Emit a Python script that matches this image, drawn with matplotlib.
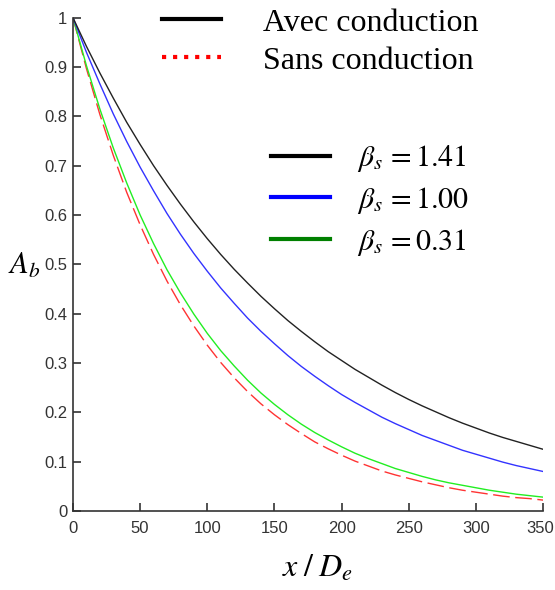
import matplotlib.pyplot as plt
from matplotlib.lines import Line2D
from matplotlib.transforms import ScaledTranslation
import numpy as np

plt.rcParams['mathtext.fontset'] = 'stix'

# x / De
x = np.arange(0, 351, 10)

# A_b, beta_s = 1.41 / 1.00 / 0.31 and without conduction
ab_141 = [1.0, 0.942, 0.888, 0.837, 0.788, 0.743, 0.700, 0.660, 0.622, 0.586,
          0.552, 0.520, 0.490, 0.462, 0.435, 0.410, 0.386, 0.364, 0.343, 0.323,
          0.305, 0.287, 0.271, 0.255, 0.240, 0.226, 0.213, 0.201, 0.189, 0.178,
          0.168, 0.158, 0.149, 0.141, 0.133, 0.125]
ab_100 = [1.0, 0.930, 0.866, 0.805, 0.749, 0.697, 0.649, 0.603, 0.561, 0.522,
          0.486, 0.452, 0.421, 0.391, 0.364, 0.339, 0.315, 0.293, 0.273, 0.254,
          0.236, 0.220, 0.205, 0.190, 0.177, 0.165, 0.153, 0.143, 0.133, 0.123,
          0.115, 0.107, 0.099, 0.092, 0.086, 0.080]
ab_031 = [1.0, 0.903, 0.815, 0.736, 0.665, 0.600, 0.542, 0.489, 0.442, 0.399,
          0.360, 0.325, 0.294, 0.265, 0.239, 0.216, 0.195, 0.176, 0.159, 0.144,
          0.130, 0.117, 0.106, 0.096, 0.086, 0.078, 0.070, 0.063, 0.057, 0.052,
          0.047, 0.042, 0.038, 0.034, 0.031, 0.028]
ab_sans = [1.0, 0.897, 0.804, 0.721, 0.646, 0.580, 0.520, 0.466, 0.418, 0.375,
           0.336, 0.301, 0.270, 0.242, 0.217, 0.195, 0.175, 0.157, 0.140, 0.126,
           0.113, 0.101, 0.091, 0.081, 0.073, 0.066, 0.059, 0.053, 0.047, 0.042,
           0.038, 0.034, 0.030, 0.027, 0.025, 0.022]

xticks = [0, 50, 100, 150, 200, 250, 300, 350]
yticks = [0, 0.1, 0.2, 0.3, 0.4, 0.5, 0.6, 0.7, 0.8, 0.9, 1]
ylabels = ["0", "0.1", "0.2", "0.3", "0.4", "0.5", "0.6", "0.7", "0.8", "0.9", "1"]

f = plt.figure(figsize=(5.55, 5.9), dpi=100)
ax = f.add_axes([0.1315, 0.134, 0.847, 0.836])

ax.plot(x, ab_sans, c="#ff3333", lw=1, dashes=(12, 4))
ax.plot(x, ab_031, c="#22ee22", lw=1)
ax.plot(x, ab_100, c="#3333ff", lw=1)
ax.plot(x, ab_141, c="#222222", lw=1)

ax.set_xlim(0, 350)
ax.set_ylim(0, 1)
ax.set_xticks(xticks)
ax.set_yticks(yticks)
ax.set_yticklabels(ylabels)
ax.spines['top'].set_visible(False)
ax.spines['right'].set_visible(False)
for s in ('left', 'bottom'):
    ax.spines[s].set_color('#333333')
    ax.spines[s].set_linewidth(1.2)
ax.tick_params(direction='in', length=6, width=1.2, colors='#333333',
               labelsize=12, labelcolor='#333333', pad=4)
ax.tick_params(axis='x', pad=7)
for lab in ax.get_xticklabels() + ax.get_yticklabels():
    lab.set_family(['Liberation Sans Narrow', 'Liberation Sans'])
# last x label sits against the right edge
last = ax.get_xticklabels()[-1]
last.set_transform(last.get_transform() + ScaledTranslation(-3 / 100, 0, f.dpi_scale_trans))

f.text(0.573, 0.037, r"$x\;/\;D_e$", fontsize=23, ha='center', va='center')
f.text(0.043, 0.55, r"$A_b$", fontsize=22, ha='center', va='center')

h1 = [Line2D([], [], c='black', lw=3),
      Line2D([], [], c='red', lw=3, ls=':')]
f.legend(h1, ["Avec conduction", "Sans conduction"], loc='upper left',
         bbox_to_anchor=(0.292, 0.986), frameon=False, borderpad=0, borderaxespad=0,
         handlelength=1.84, handletextpad=1.31, labelspacing=0.27,
         prop={'family': 'Liberation Serif', 'size': 23})

h2 = [Line2D([], [], c='black', lw=3),
      Line2D([], [], c='blue', lw=3),
      Line2D([], [], c='green', lw=3)]
f.legend(h2, [r"$\beta_s\,=1.41$", r"$\beta_s\,=1.00$", r"$\beta_s\,=0.31$"],
         loc='upper left', bbox_to_anchor=(0.488, 0.7575), frameon=False,
         borderpad=0, borderaxespad=0, handlelength=1.97, handletextpad=0.9,
         labelspacing=0.36, prop={'size': 21.5})

f.savefig("out.png", dpi=100)
